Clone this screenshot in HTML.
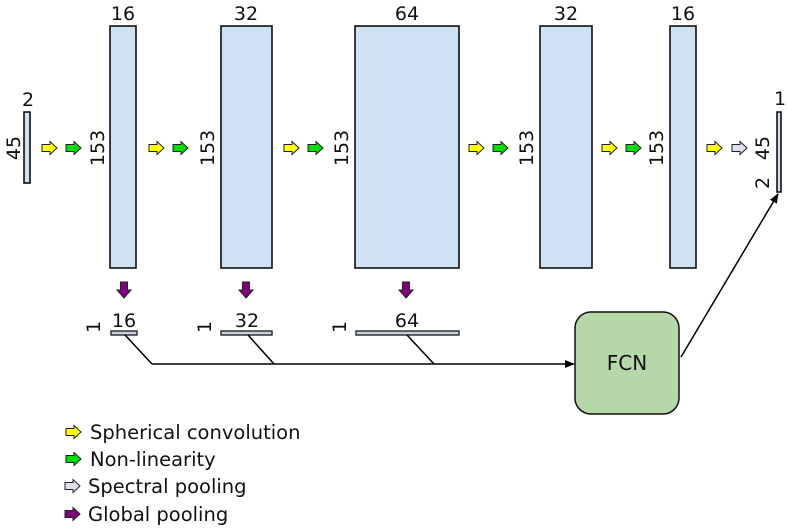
<!DOCTYPE html>
<html><head><meta charset="utf-8"><style>
html,body{margin:0;padding:0;background:#fff;}
svg{display:block;font-family:"DejaVu Sans","Liberation Sans",sans-serif;}
</style></head><body>
<svg width="787" height="530" viewBox="0 0 787 530" xmlns="http://www.w3.org/2000/svg">
<defs>
<path id="ar" d="M0,-3.5 L8,-3.5 L8,-6.5 L15,0 L8,6.5 L8,3.5 L0,3.5 Z" stroke="#222" stroke-width="1"/>
<path id="ad" d="M-3.5,0 L3.5,0 L3.5,8 L7,8 L0,16 L-7,8 L-3.5,8 Z" fill="#800080" stroke="#222" stroke-width="1"/>
<marker id="mk" markerWidth="10" markerHeight="8" refX="9" refY="4" orient="auto" markerUnits="userSpaceOnUse"><path d="M0,0 L10,4 L0,8 Z" fill="#000"/></marker>
</defs>
<g fill="#cfe2f3" stroke="#000" stroke-width="1.5">
<rect x="24" y="112" width="6" height="71"/>
<rect x="110" y="26" width="26" height="242"/>
<rect x="221" y="26" width="51" height="242"/>
<rect x="355" y="26" width="104" height="242"/>
<rect x="540" y="26" width="52" height="242"/>
<rect x="670" y="26" width="26" height="242"/>
<rect x="777" y="112" width="4" height="80"/>
</g>
<g fill="#c4d2e0" stroke="#333" stroke-width="1.5">
<rect x="111" y="331" width="26" height="4"/>
<rect x="221" y="331" width="51" height="4"/>
<rect x="356" y="331" width="103" height="4"/>
</g>
<g font-size="19" fill="#111" text-anchor="middle">
<text x="28" y="106">2</text>
<text x="123" y="20">16</text>
<text x="246" y="20">32</text>
<text x="407" y="20">64</text>
<text x="566" y="20">32</text>
<text x="683" y="20">16</text>
<text x="780" y="105">1</text>
<text x="124" y="327">16</text>
<text x="247" y="327">32</text>
<text x="407" y="327">64</text>
<text transform="translate(20,148) rotate(-90)">45</text>
<text transform="translate(104,148) rotate(-90)">153</text>
<text transform="translate(214,148) rotate(-90)">153</text>
<text transform="translate(348,148) rotate(-90)">153</text>
<text transform="translate(533,148) rotate(-90)">153</text>
<text transform="translate(663,148) rotate(-90)">153</text>
<text transform="translate(769,148) rotate(-90)">45</text>
<text transform="translate(769,183) rotate(-90)">2</text>
<text transform="translate(100,327) rotate(-90)">1</text>
<text transform="translate(211,327) rotate(-90)">1</text>
<text transform="translate(346,327) rotate(-90)">1</text>
</g>
<g>
<use href="#ar" x="42" y="148" fill="#ffff00"/><use href="#ar" x="66" y="148" fill="#00dd00"/>
<use href="#ar" x="149" y="148" fill="#ffff00"/><use href="#ar" x="173" y="148" fill="#00dd00"/>
<use href="#ar" x="284" y="148" fill="#ffff00"/><use href="#ar" x="308" y="148" fill="#00dd00"/>
<use href="#ar" x="469" y="148" fill="#ffff00"/><use href="#ar" x="493" y="148" fill="#00dd00"/>
<use href="#ar" x="602" y="148" fill="#ffff00"/><use href="#ar" x="626" y="148" fill="#00dd00"/>
<use href="#ar" x="707" y="148" fill="#ffff00"/><use href="#ar" x="732" y="148" fill="#e0e0f4"/>
<use href="#ad" x="124" y="282"/><use href="#ad" x="246" y="282"/><use href="#ad" x="406" y="282"/>
</g>
<g stroke="#000" stroke-width="1.5" fill="none">
<line x1="125" y1="335" x2="152" y2="364"/>
<line x1="248" y1="335" x2="274" y2="364"/>
<line x1="407" y1="335" x2="434" y2="364"/>
<line x1="152" y1="364" x2="574" y2="364" marker-end="url(#mk)"/>
<line x1="681" y1="357" x2="778" y2="194" marker-end="url(#mk)"/>
</g>
<rect x="575" y="312" width="104" height="102" rx="16" fill="#b6d7a8" stroke="#111" stroke-width="1.5"/>
<text x="627" y="370" font-size="20" text-anchor="middle" fill="#111">FCN</text>
<g>
<use href="#ar" transform="translate(66,432)" fill="#ffff00"/>
<use href="#ar" transform="translate(66,459)" fill="#00dd00"/>
<use href="#ar" transform="translate(65,486)" fill="#e0e0f4"/>
<use href="#ar" transform="translate(65,514)" fill="#800080"/>
</g>
<g font-size="19.5" fill="#111">
<text x="90" y="439">Spherical convolution</text>
<text x="90" y="466">Non-linearity</text>
<text x="88" y="493">Spectral pooling</text>
<text x="88" y="521">Global pooling</text>
</g>
</svg>
</body></html>
